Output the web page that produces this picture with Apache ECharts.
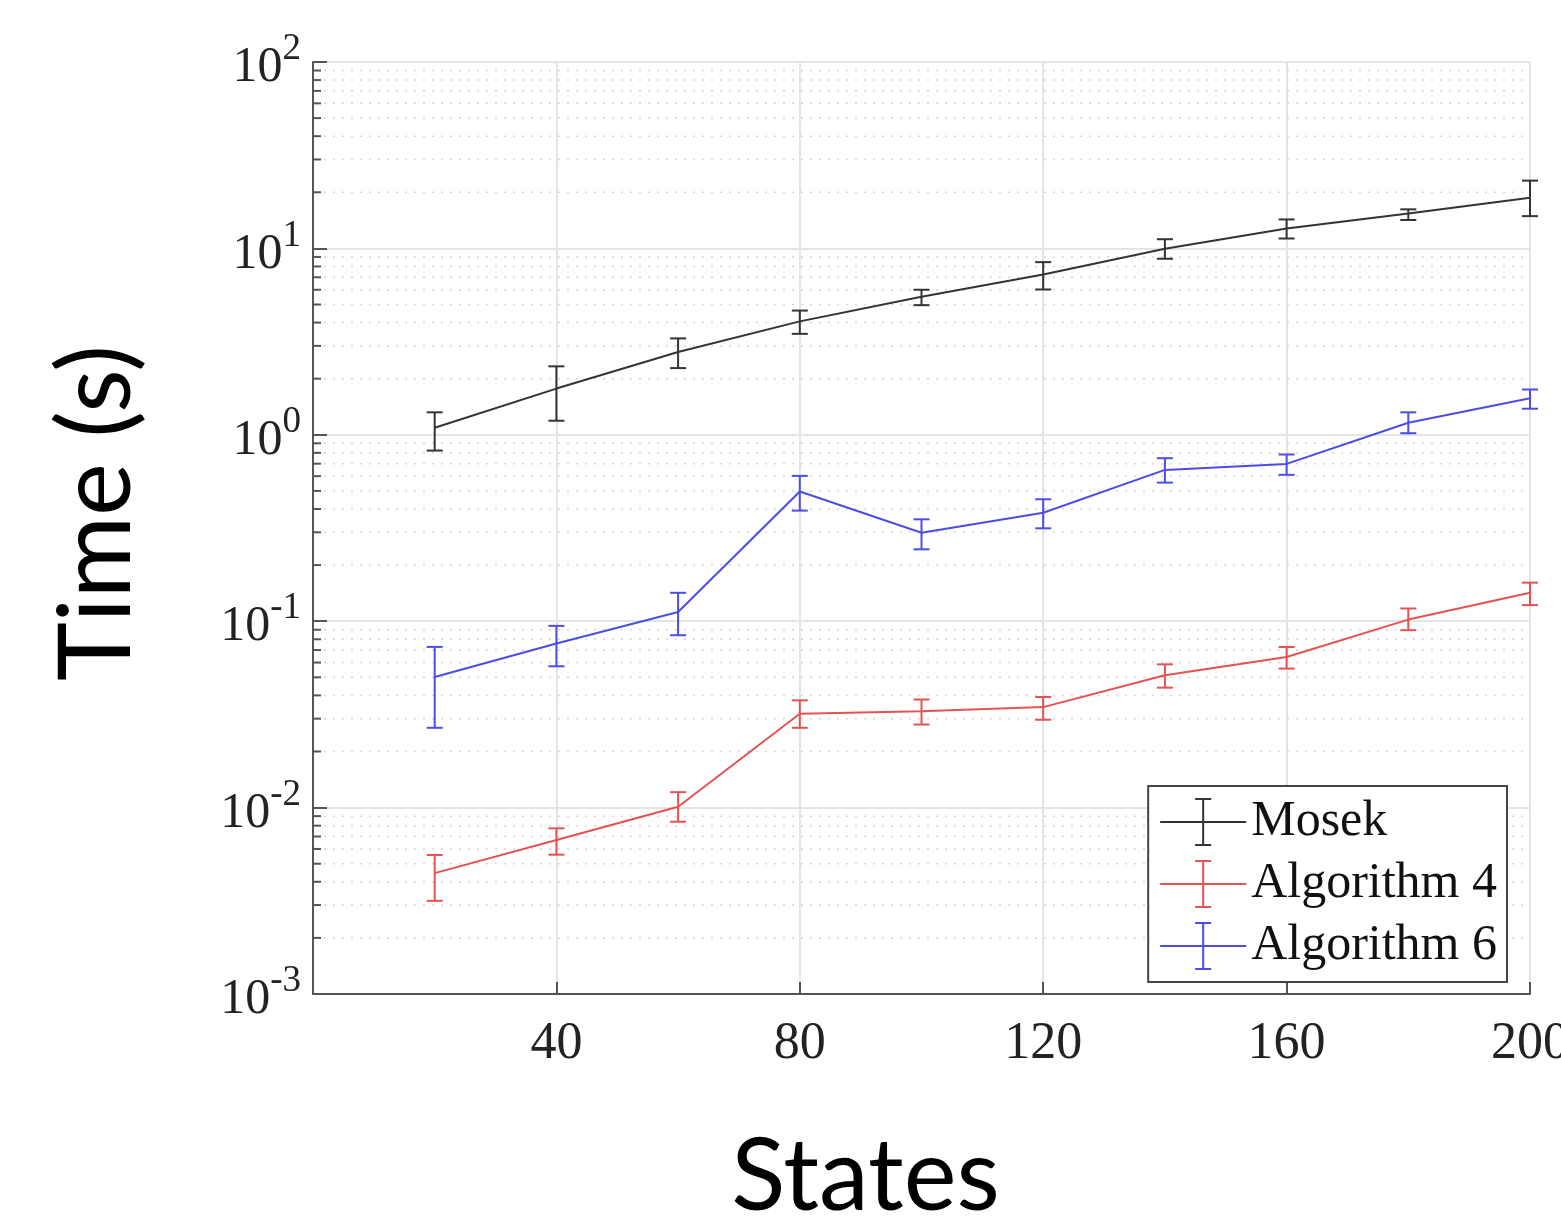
<!DOCTYPE html>
<html>
<head>
<meta charset="utf-8">
<script src="https://cdn.jsdelivr.net/npm/echarts@6/dist/echarts.min.js"></script>
<style>
html,body{margin:0;padding:0;background:#fff;}
#chart{width:1561px;height:1219px;}
</style>
</head>
<body>
<div id="chart"></div>
<script>
// ---- data ----
var states = [20, 40, 60, 80, 100, 120, 140, 160, 180, 200];

var mosekMean = [1.09, 1.77, 2.78, 4.06, 5.50, 7.25, 9.96, 12.8, 15.4, 18.7];
var mosekLow  = [0.823, 1.19, 2.28, 3.48, 4.96, 6.02, 8.80, 11.3, 14.2, 14.9];
var mosekHigh = [1.32, 2.33, 3.29, 4.64, 6.00, 8.44, 11.2, 14.3, 16.2, 23.1];

var alg4Mean = [0.00445, 0.0067, 0.0101, 0.0319, 0.0329, 0.0346, 0.0513, 0.0643, 0.102, 0.142];
var alg4Low  = [0.00316, 0.00559, 0.0084, 0.0268, 0.0279, 0.0296, 0.044, 0.0557, 0.0895, 0.122];
var alg4High = [0.00557, 0.00774, 0.0121, 0.0376, 0.038, 0.0392, 0.0587, 0.0727, 0.117, 0.161];

var alg6Mean = [0.0502, 0.0759, 0.112, 0.496, 0.298, 0.382, 0.648, 0.698, 1.16, 1.57];
var alg6Low  = [0.0268, 0.0573, 0.0841, 0.392, 0.243, 0.315, 0.554, 0.610, 1.02, 1.38];
var alg6High = [0.0728, 0.0944, 0.142, 0.602, 0.352, 0.451, 0.749, 0.784, 1.32, 1.75];

var seriesNames = ['Mosek', 'Algorithm 4', 'Algorithm 6'];
var xTicks = [40, 80, 120, 160, 200];
var yDecades = [0.001, 0.01, 0.1, 1, 10, 100];
var minorMultipliers = [2, 3, 4, 5, 6, 7, 8, 9];

// ---- helpers ----
var colors = ['#333333', '#e65252', '#4c4ce6'];
var serifFont = '"Liberation Serif", "DejaVu Serif", serif';

function pairs(xs, ys) { return xs.map(function (x, i) { return [x, ys[i]]; }); }
function triples(xs, lo, hi) { return xs.map(function (x, i) { return [x, lo[i], hi[i]]; }); }

var minorValues = [];
for (var d = 0; d < yDecades.length - 1; d++) {
  minorMultipliers.forEach(function (m) { minorValues.push(+(yDecades[d] * m).toPrecision(3)); });
}

function errRender(color) {
  return function (params, api) {
    var x = api.value(0);
    var lo = api.coord([x, api.value(1)]);
    var hi = api.coord([x, api.value(2)]);
    var cap = 8;
    var st = { stroke: color, lineWidth: 2 };
    return {
      type: 'group',
      children: [
        { type: 'line', shape: { x1: lo[0], y1: lo[1], x2: hi[0], y2: hi[1] }, style: st },
        { type: 'line', shape: { x1: lo[0] - cap, y1: lo[1], x2: lo[0] + cap, y2: lo[1] }, style: st },
        { type: 'line', shape: { x1: hi[0] - cap, y1: hi[1], x2: hi[0] + cap, y2: hi[1] }, style: st }
      ]
    };
  };
}

function minorRender(params, api) {
  var v = api.value(0);
  var a = api.coord([0, v]);
  var b = api.coord([200, v]);
  return {
    type: 'group',
    children: [
      { type: 'line', shape: { x1: a[0] + 2, y1: a[1], x2: b[0], y2: b[1] },
        style: { stroke: '#d6d6d6', lineWidth: 1.5, lineDash: [2, 7] } },
      { type: 'line', shape: { x1: a[0], y1: a[1], x2: a[0] + 8, y2: a[1] },
        style: { stroke: '#555555', lineWidth: 2 } }
    ]
  };
}

var legendIcon = 'path://M0,23H86V25H0Z M42,0H44V48H42Z M35,0H51V2H35Z M35,46H51V48H35Z';

var means = [mosekMean, alg4Mean, alg6Mean];
var lows = [mosekLow, alg4Low, alg6Low];
var highs = [mosekHigh, alg4High, alg6High];

var series = [{
  type: 'custom',
  name: 'minorGrid',
  data: minorValues.map(function (v) { return [v]; }),
  renderItem: minorRender,
  silent: true,
  z: 1,
  encode: { y: 0 }
}];

seriesNames.forEach(function (name, i) {
  series.push({
    type: 'line',
    name: name,
    data: pairs(states, means[i]),
    symbol: 'none',
    lineStyle: { color: colors[i], width: 2 },
    itemStyle: { color: colors[i] },
    z: 3
  });
  series.push({
    type: 'custom',
    name: name,
    data: triples(states, lows[i], highs[i]),
    renderItem: errRender(colors[i]),
    itemStyle: { color: colors[i] },
    encode: { x: 0, y: [1, 2] },
    z: 4
  });
});

var chart = echarts.init(document.getElementById('chart'));
chart.setOption({
  animation: false,
  backgroundColor: '#ffffff',
  grid: { left: 313, right: 31, top: 62, bottom: 225, containLabel: false, outerBoundsMode: 'none' },
  legend: {
    orient: 'vertical',
    right: 54,
    top: 786,
    backgroundColor: '#ffffff',
    borderColor: '#444444',
    borderWidth: 2,
    borderRadius: 0,
    padding: [10, 10, 10, 12],
    itemWidth: 86,
    itemHeight: 48,
    itemGap: 10,
    selectedMode: false,
    textStyle: { fontFamily: serifFont, fontSize: 50, color: '#111111', lineHeight: 48, padding: [4, 0, 0, 0] },
    data: seriesNames.map(function (n, i) {
      return { name: n, icon: legendIcon, itemStyle: { color: colors[i], borderWidth: 0 } };
    })
  },
  xAxis: {
    type: 'value',
    min: 0,
    max: 200,
    interval: 40,
    name: 'States',
    nameLocation: 'middle',
    nameGap: 134,
    nameTextStyle: { fontFamily: 'Lato, "Open Sans", sans-serif', fontSize: 100, color: '#000000', padding: [0, 112, 0, 0] },
    axisLine: { show: true, onZero: false, lineStyle: { color: '#555555', width: 2 } },
    axisTick: { show: true, inside: true, length: 12, lineStyle: { color: '#555555', width: 2 } },
    axisLabel: {
      margin: 24,
      fontFamily: serifFont,
      fontSize: 52,
      color: '#222222',
      hideOverlap: false,
      showMaxLabel: true,
      formatter: function (v) { return xTicks.indexOf(v) >= 0 ? String(v) : ''; }
    },
    splitLine: { show: true, lineStyle: { color: '#e4e4e4', width: 2 } }
  },
  yAxis: {
    type: 'log',
    logBase: 10,
    min: yDecades[0],
    max: yDecades[yDecades.length - 1],
    name: 'Time (s)',
    nameLocation: 'middle',
    nameRotate: 90,
    nameGap: 165,
    nameTextStyle: { fontFamily: 'Lato, "Open Sans", sans-serif', fontSize: 100, color: '#000000', padding: [0, 0, 0, 30] },
    axisLine: { show: true, lineStyle: { color: '#555555', width: 2 } },
    axisTick: { show: true, inside: true, length: 14, lineStyle: { color: '#555555', width: 2 } },
    axisLabel: {
      margin: 12,
      formatter: function (v) {
        var e = Math.round(Math.log(v) / Math.LN10);
        return '{b|10}{s|' + e + '}';
      },
      rich: {
        b: { fontFamily: serifFont, fontSize: 50, color: '#222222', lineHeight: 62, verticalAlign: 'bottom' },
        s: { fontFamily: serifFont, fontSize: 37, color: '#222222', lineHeight: 62, verticalAlign: 'top' }
      }
    },
    splitLine: { show: true, lineStyle: { color: '#e4e4e4', width: 2 } },
    minorTick: { show: false },
    minorSplitLine: { show: false }
  },
  series: series
});
</script>
</body>
</html>
